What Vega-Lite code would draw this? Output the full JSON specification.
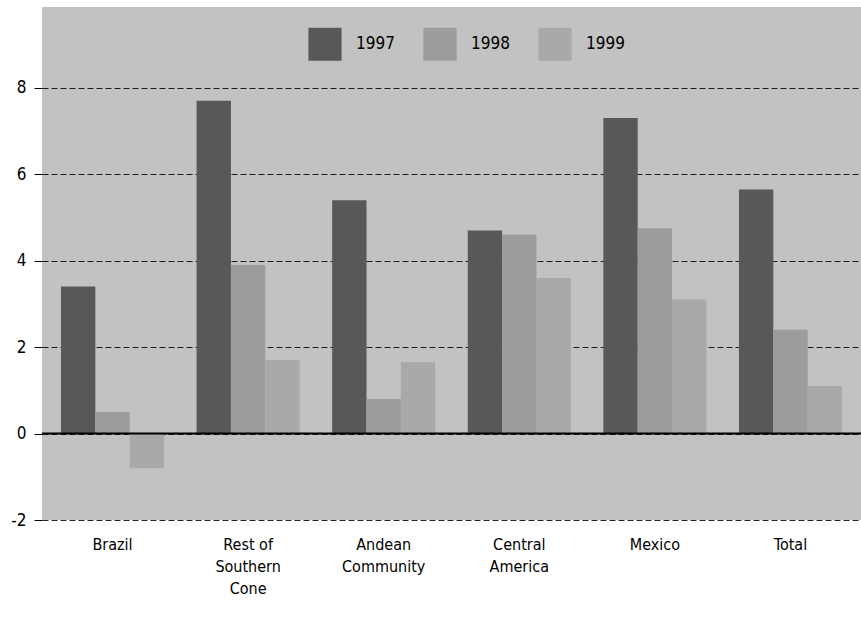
{
  "$schema": "https://vega.github.io/schema/vega-lite/v6.json",
  "width": 819,
  "height": 513,
  "autosize": "none",
  "padding": {"left": 42, "top": 7, "right": 0, "bottom": 109},
  "background": "white",
  "config": {
    "view": {"fill": "#c2c2c2", "stroke": null},
    "font": "Liberation Sans Narrow, DejaVu Sans Condensed, sans-serif"
  },
  "data": {
    "values": [
      {"region": "Brazil", "year": "1997", "value": 3.4},
      {"region": "Brazil", "year": "1998", "value": 0.5},
      {"region": "Brazil", "year": "1999", "value": -0.8},
      {"region": "Rest of Southern Cone", "year": "1997", "value": 7.7},
      {"region": "Rest of Southern Cone", "year": "1998", "value": 3.9},
      {"region": "Rest of Southern Cone", "year": "1999", "value": 1.7},
      {"region": "Andean Community", "year": "1997", "value": 5.4},
      {"region": "Andean Community", "year": "1998", "value": 0.8},
      {"region": "Andean Community", "year": "1999", "value": 1.65},
      {"region": "Central America", "year": "1997", "value": 4.7},
      {"region": "Central America", "year": "1998", "value": 4.6},
      {"region": "Central America", "year": "1999", "value": 3.6},
      {"region": "Mexico", "year": "1997", "value": 7.3},
      {"region": "Mexico", "year": "1998", "value": 4.75},
      {"region": "Mexico", "year": "1999", "value": 3.1},
      {"region": "Total", "year": "1997", "value": 5.65},
      {"region": "Total", "year": "1998", "value": 2.4},
      {"region": "Total", "year": "1999", "value": 1.1}
    ]
  },
  "layer": [
    {
      "mark": {"type": "bar"},
      "encoding": {
        "x": {
          "field": "region",
          "type": "nominal",
          "sort": null,
          "scale": {"paddingInner": 0.24, "paddingOuter": 0.14},
          "axis": {
            "title": null,
            "domain": false,
            "ticks": false,
            "labelAngle": 0,
            "labelFontSize": 16,
            "labelColor": "black",
            "labelPadding": 16,
            "labelLineHeight": 22,
            "labelBaseline": "top",
            "labelExpr": "datum.value == 'Rest of Southern Cone' ? ['Rest of','Southern','Cone'] : datum.value == 'Andean Community' ? ['Andean','Community'] : datum.value == 'Central America' ? ['Central','America'] : datum.value"
          }
        },
        "xOffset": {"field": "year", "type": "nominal", "scale": {"paddingInner": 0}},
        "y": {
          "field": "value",
          "type": "quantitative",
          "scale": {"domain": [-2, 9.87], "nice": false, "zero": false},
          "axis": {
            "title": null,
            "values": [-2, 0, 2, 4, 6, 8],
            "labelExpr": "'' + datum.value",
            "domain": false,
            "tickColor": "black",
            "tickSize": 8,
            "labelFontSize": 17,
            "labelColor": "black",
            "labelPadding": 8,
            "grid": true,
            "gridColor": "black",
            "gridDash": [6, 3],
            "gridWidth": 1,
            "gridOpacity": 0.85
          }
        },
        "color": {
          "field": "year",
          "type": "nominal",
          "scale": {"domain": ["1997", "1998", "1999"], "range": ["#585858", "#9c9c9c", "#a9a9a9"]},
          "legend": {
            "title": null,
            "orient": "none",
            "legendX": 266,
            "legendY": 20,
            "direction": "horizontal",
            "columns": 3,
            "symbolType": "square",
            "symbolSize": 1100,
            "symbolStrokeWidth": 0,
            "symbolOpacity": 1,
            "labelFontSize": 17,
            "labelColor": "black",
            "labelOffset": 14,
            "columnPadding": 28,
            "padding": 0
          }
        }
      }
    },
    {
      "data": {"values": [{"y": 0}]},
      "mark": {"type": "rule", "color": "black", "strokeWidth": 2},
      "encoding": {"y": {"field": "y", "type": "quantitative"}}
    }
  ]
}
